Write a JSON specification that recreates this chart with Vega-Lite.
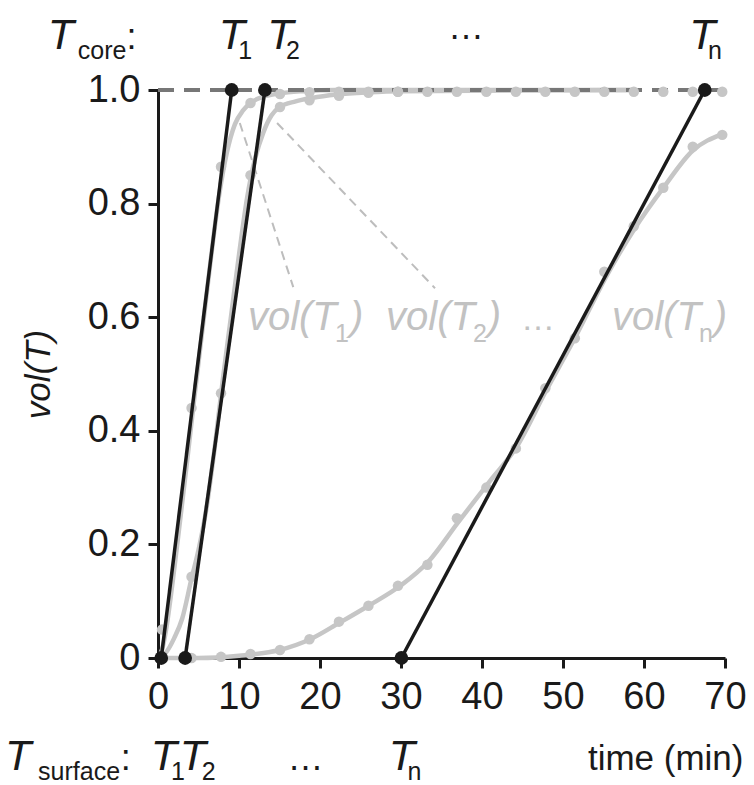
{
  "$schema": "https://vega.github.io/schema/vega-lite/v6.json",
  "width": 567,
  "height": 568,
  "autosize": {"type": "none"},
  "padding": {"left": 158, "top": 90, "right": 29, "bottom": 127},
  "background": "white",
  "config": {
    "view": {"stroke": null},
    "font": "Liberation Sans",
    "axis": {
      "grid": false,
      "domainColor": "#1a1a1a",
      "domainWidth": 3,
      "tickColor": "#1a1a1a",
      "tickWidth": 3,
      "tickSize": 10,
      "labelColor": "#1a1a1a",
      "labelFont": "Liberation Sans",
      "labelFontSize": 38,
      "labelOverlap": false,
      "labelBound": false,
      "labelFlush": false,
      "titleFont": "Liberation Sans",
      "titleFontSize": 35,
      "titleFontWeight": "normal",
      "titleColor": "#1a1a1a"
    }
  },
  "datasets": {
    "fit": [
      {"s": "T1", "t": 0, "v": 0}, {"s": "T1", "t": 0.5, "v": 0.015}, {"s": "T1", "t": 1, "v": 0.05}, {"s": "T1", "t": 1.5, "v": 0.1}, {"s": "T1", "t": 2.5, "v": 0.215}, {"s": "T1", "t": 3.5, "v": 0.335}, {"s": "T1", "t": 4.5, "v": 0.46}, {"s": "T1", "t": 5.5, "v": 0.58}, {"s": "T1", "t": 6.5, "v": 0.7}, {"s": "T1", "t": 7.5, "v": 0.81}, {"s": "T1", "t": 8.5, "v": 0.89}, {"s": "T1", "t": 9.5, "v": 0.94}, {"s": "T1", "t": 10.5, "v": 0.964}, {"s": "T1", "t": 11.5, "v": 0.978}, {"s": "T1", "t": 13, "v": 0.988}, {"s": "T1", "t": 15, "v": 0.994}, {"s": "T1", "t": 18, "v": 0.998}, {"s": "T1", "t": 22, "v": 1}, {"s": "T1", "t": 59, "v": 1},
      {"s": "T2", "t": 0, "v": 0}, {"s": "T2", "t": 1, "v": 0.01}, {"s": "T2", "t": 2, "v": 0.035}, {"s": "T2", "t": 3, "v": 0.07}, {"s": "T2", "t": 4.14, "v": 0.14}, {"s": "T2", "t": 5, "v": 0.19}, {"s": "T2", "t": 6, "v": 0.265}, {"s": "T2", "t": 7, "v": 0.37}, {"s": "T2", "t": 8, "v": 0.49}, {"s": "T2", "t": 9, "v": 0.6}, {"s": "T2", "t": 10, "v": 0.71}, {"s": "T2", "t": 11, "v": 0.81}, {"s": "T2", "t": 12, "v": 0.88}, {"s": "T2", "t": 13, "v": 0.925}, {"s": "T2", "t": 14, "v": 0.955}, {"s": "T2", "t": 15, "v": 0.97}, {"s": "T2", "t": 17, "v": 0.98}, {"s": "T2", "t": 19, "v": 0.986}, {"s": "T2", "t": 22, "v": 0.992}, {"s": "T2", "t": 26, "v": 0.996}, {"s": "T2", "t": 30, "v": 0.998}, {"s": "T2", "t": 59, "v": 1},
      {"s": "Tn", "t": 0, "v": 0}, {"s": "Tn", "t": 5, "v": 0.0}, {"s": "Tn", "t": 10, "v": 0.004}, {"s": "Tn", "t": 15, "v": 0.014}, {"s": "Tn", "t": 18.8, "v": 0.033}, {"s": "Tn", "t": 22.4, "v": 0.062}, {"s": "Tn", "t": 26, "v": 0.092}, {"s": "Tn", "t": 30, "v": 0.128}, {"s": "Tn", "t": 33.4, "v": 0.17}, {"s": "Tn", "t": 37, "v": 0.238}, {"s": "Tn", "t": 41, "v": 0.312}, {"s": "Tn", "t": 44.2, "v": 0.37}, {"s": "Tn", "t": 47.9, "v": 0.47}, {"s": "Tn", "t": 51.6, "v": 0.567}, {"s": "Tn", "t": 55.2, "v": 0.668}, {"s": "Tn", "t": 58.8, "v": 0.755}, {"s": "Tn", "t": 62.4, "v": 0.828}, {"s": "Tn", "t": 66, "v": 0.893}, {"s": "Tn", "t": 69.6, "v": 0.922}
    ],
    "obs": [
      {"s": "T1", "t": 0.5, "v": 0.05}, {"s": "T1", "t": 4.14, "v": 0.44}, {"s": "T1", "t": 7.78, "v": 0.865}, {"s": "T1", "t": 11.42, "v": 0.977}, {"s": "T1", "t": 15.06, "v": 0.993}, {"s": "T1", "t": 18.7, "v": 0.996}, {"s": "T1", "t": 22.34, "v": 0.997}, {"s": "T1", "t": 25.98, "v": 0.997}, {"s": "T1", "t": 29.62, "v": 0.997}, {"s": "T1", "t": 33.26, "v": 0.997}, {"s": "T1", "t": 36.9, "v": 0.997}, {"s": "T1", "t": 40.54, "v": 0.997}, {"s": "T1", "t": 44.18, "v": 0.997}, {"s": "T1", "t": 47.82, "v": 0.997}, {"s": "T1", "t": 51.46, "v": 0.997}, {"s": "T1", "t": 55.1, "v": 0.997}, {"s": "T1", "t": 58.74, "v": 0.997}, {"s": "T1", "t": 62.38, "v": 0.997}, {"s": "T1", "t": 66.02, "v": 0.997}, {"s": "T1", "t": 69.66, "v": 0.997},
      {"s": "T2", "t": 0.5, "v": 0.0}, {"s": "T2", "t": 4.14, "v": 0.143}, {"s": "T2", "t": 7.78, "v": 0.466}, {"s": "T2", "t": 11.42, "v": 0.85}, {"s": "T2", "t": 15.06, "v": 0.97}, {"s": "T2", "t": 18.7, "v": 0.982}, {"s": "T2", "t": 22.34, "v": 0.99}, {"s": "T2", "t": 25.98, "v": 0.995}, {"s": "T2", "t": 29.62, "v": 0.997},
      {"s": "Tn", "t": 0.5, "v": 0.0}, {"s": "Tn", "t": 4.14, "v": 0.0}, {"s": "Tn", "t": 7.78, "v": 0.002}, {"s": "Tn", "t": 11.42, "v": 0.007}, {"s": "Tn", "t": 15.06, "v": 0.014}, {"s": "Tn", "t": 18.7, "v": 0.033}, {"s": "Tn", "t": 22.34, "v": 0.064}, {"s": "Tn", "t": 25.98, "v": 0.092}, {"s": "Tn", "t": 29.62, "v": 0.127}, {"s": "Tn", "t": 33.26, "v": 0.164}, {"s": "Tn", "t": 36.9, "v": 0.246}, {"s": "Tn", "t": 40.54, "v": 0.3}, {"s": "Tn", "t": 44.18, "v": 0.369}, {"s": "Tn", "t": 47.82, "v": 0.475}, {"s": "Tn", "t": 51.46, "v": 0.563}, {"s": "Tn", "t": 55.1, "v": 0.68}, {"s": "Tn", "t": 58.74, "v": 0.76}, {"s": "Tn", "t": 62.38, "v": 0.828}, {"s": "Tn", "t": 66.02, "v": 0.9}, {"s": "Tn", "t": 69.66, "v": 0.921}
    ],
    "ref": [{"s": "ref", "t": 0, "v": 1}, {"s": "ref", "t": 70, "v": 1}],
    "leaders": [
      {"s": "L1", "t": 10.1, "v": 0.942}, {"s": "L1", "t": 16.7, "v": 0.653},
      {"s": "L2", "t": 14.7, "v": 0.942}, {"s": "L2", "t": 34.2, "v": 0.651}
    ],
    "tangents": [
      {"s": "T1", "t": 0.4, "v": 0}, {"s": "T1", "t": 9.1, "v": 1},
      {"s": "T2", "t": 3.35, "v": 0}, {"s": "T2", "t": 13.2, "v": 1},
      {"s": "Tn", "t": 30.05, "v": 0}, {"s": "Tn", "t": 67.5, "v": 1}
    ],
    "labels": [
      {"kind": "T", "txt": "T", "t": -13.6, "v": 1.072},
      {"kind": "sub", "txt": "core", "t": -9.9, "v": 1.054},
      {"kind": "plain", "txt": ":", "t": -3.9, "v": 1.072},
      {"kind": "T", "txt": "T", "t": 7.5, "v": 1.072},
      {"kind": "sub", "txt": "1", "t": 9.9, "v": 1.054},
      {"kind": "T", "txt": "T", "t": 13.5, "v": 1.072},
      {"kind": "sub", "txt": "2", "t": 15.8, "v": 1.054},
      {"kind": "plain", "txt": "…", "t": 35.8, "v": 1.09},
      {"kind": "T", "txt": "T", "t": 65.6, "v": 1.072},
      {"kind": "sub", "txt": "n", "t": 67.9, "v": 1.054},
      {"kind": "T", "txt": "T", "t": -18.9, "v": -0.197},
      {"kind": "sub", "txt": "surface", "t": -14.8, "v": -0.214},
      {"kind": "plain", "txt": ":", "t": -4.6, "v": -0.197},
      {"kind": "T", "txt": "T", "t": -0.9, "v": -0.197},
      {"kind": "sub", "txt": "1", "t": 1.6, "v": -0.214},
      {"kind": "T", "txt": "T", "t": 2.7, "v": -0.197},
      {"kind": "sub", "txt": "2", "t": 5.4, "v": -0.214},
      {"kind": "plain", "txt": "…", "t": 16.0, "v": -0.197},
      {"kind": "T", "txt": "T", "t": 28.5, "v": -0.197},
      {"kind": "sub", "txt": "n", "t": 30.8, "v": -0.214},
      {"kind": "gvol", "txt": "vol(T", "t": 11.1, "v": 0.5775},
      {"kind": "gsub", "txt": "1", "t": 21.85, "v": 0.556},
      {"kind": "gvol", "txt": ")", "t": 23.7, "v": 0.5775},
      {"kind": "gvol", "txt": "vol(T", "t": 28.15, "v": 0.5775},
      {"kind": "gsub", "txt": "2", "t": 38.9, "v": 0.556},
      {"kind": "gvol", "txt": ")", "t": 40.7, "v": 0.5775},
      {"kind": "gplain", "txt": "…", "t": 44.8, "v": 0.5775},
      {"kind": "gvol", "txt": "vol(T", "t": 56.05, "v": 0.5775},
      {"kind": "gsub", "txt": "n", "t": 66.8, "v": 0.556},
      {"kind": "gvol", "txt": ")", "t": 68.6, "v": 0.5775}
    ]
  },
  "encoding": {
    "x": {
      "field": "t", "type": "quantitative",
      "scale": {"domain": [0, 70], "nice": false, "zero": false},
      "axis": {
        "values": [0, 10, 20, 30, 40, 50, 60, 70],
        "labelPadding": 10,
        "title": "time (min)",
        "titleX": 585,
        "titleY": 111,
        "titleAlign": "right",
        "titleBaseline": "alphabetic",
        "titleAnchor": null
      }
    },
    "y": {
      "field": "v", "type": "quantitative",
      "scale": {"domain": [0, 1], "nice": false},
      "axis": {
        "values": [0, 0.2, 0.4, 0.6, 0.8, 1],
        "labelExpr": "datum.value == 0 ? '0' : format(datum.value, '.1f')",
        "labelPadding": 8,
        "title": "vol(T)",
        "titleFontStyle": "italic",
        "titleX": -102,
        "titleY": 284,
        "titleAngle": -90,
        "titleAlign": "center",
        "titleBaseline": "bottom"
      }
    }
  },
  "layer": [
    {"data": {"name": "fit"}, "mark": {"type": "line", "color": "#c6c6c6", "strokeWidth": 4.5, "interpolate": "monotone"}, "encoding": {"detail": {"field": "s"}}},
    {"data": {"name": "ref"}, "mark": {"type": "line", "color": "#777777", "strokeWidth": 4, "strokeDash": [16, 10]}, "encoding": {"detail": {"field": "s"}}},
    {"data": {"name": "leaders"}, "mark": {"type": "line", "color": "#bdbdbd", "strokeWidth": 2, "strokeDash": [9, 6]}, "encoding": {"detail": {"field": "s"}}},
    {"data": {"name": "obs"}, "mark": {"type": "circle", "color": "#c6c6c6", "size": 110, "opacity": 1}},
    {"data": {"name": "tangents"}, "mark": {"type": "line", "color": "#1a1a1a", "strokeWidth": 3.5}, "encoding": {"detail": {"field": "s"}}},
    {"data": {"name": "tangents"}, "mark": {"type": "circle", "color": "#1a1a1a", "size": 190, "opacity": 1}},
    {"data": {"name": "labels"}, "transform": [{"filter": "datum.kind === 'T'"}], "mark": {"type": "text", "align": "left", "baseline": "alphabetic", "font": "Liberation Sans", "fontSize": 43, "fontStyle": "italic", "color": "#1a1a1a"}, "encoding": {"text": {"field": "txt"}}},
    {"data": {"name": "labels"}, "transform": [{"filter": "datum.kind === 'sub'"}], "mark": {"type": "text", "align": "left", "baseline": "alphabetic", "font": "Liberation Sans", "fontSize": 25, "color": "#1a1a1a"}, "encoding": {"text": {"field": "txt"}}},
    {"data": {"name": "labels"}, "transform": [{"filter": "datum.kind === 'plain'"}], "mark": {"type": "text", "align": "left", "baseline": "alphabetic", "font": "Liberation Sans", "fontSize": 36, "color": "#1a1a1a"}, "encoding": {"text": {"field": "txt"}}},
    {"data": {"name": "labels"}, "transform": [{"filter": "datum.kind === 'gvol'"}], "mark": {"type": "text", "align": "left", "baseline": "alphabetic", "font": "Liberation Sans", "fontSize": 40, "fontStyle": "italic", "color": "#c2c2c2"}, "encoding": {"text": {"field": "txt"}}},
    {"data": {"name": "labels"}, "transform": [{"filter": "datum.kind === 'gsub'"}], "mark": {"type": "text", "align": "left", "baseline": "alphabetic", "font": "Liberation Sans", "fontSize": 25, "color": "#c2c2c2"}, "encoding": {"text": {"field": "txt"}}},
    {"data": {"name": "labels"}, "transform": [{"filter": "datum.kind === 'gplain'"}], "mark": {"type": "text", "align": "left", "baseline": "alphabetic", "font": "Liberation Sans", "fontSize": 34, "color": "#c2c2c2"}, "encoding": {"text": {"field": "txt"}}}
  ]
}
